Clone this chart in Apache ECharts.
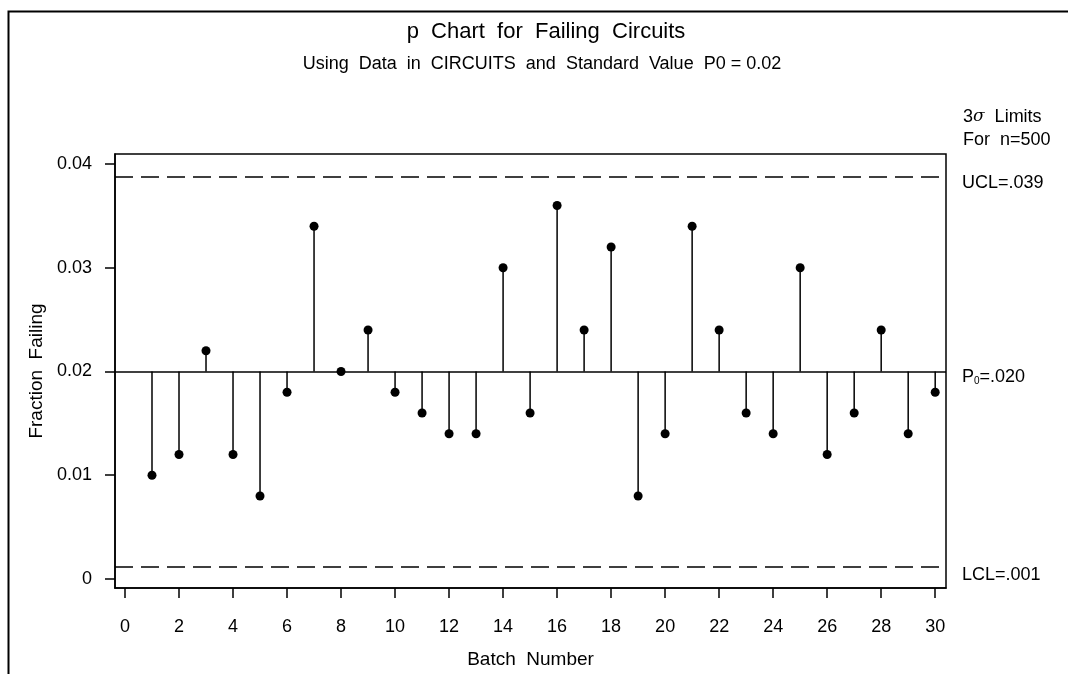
<!DOCTYPE html>
<html>
<head>
<meta charset="utf-8">
<script src="https://cdn.jsdelivr.net/npm/echarts@6/dist/echarts.min.js"></script>
<style>
  html, body { margin: 0; padding: 0; background: #fff; }
  #chart { width: 1068px; height: 674px; }
</style>
</head>
<body>
<div id="chart"></div>
<script>
const batches = [1, 2, 3, 4, 5, 6, 7, 8, 9, 10, 11, 12, 13, 14, 15, 16, 17, 18, 19, 20, 21, 22, 23, 24, 25, 26, 27, 28, 29, 30];
const fractionFailing = [0.010, 0.012, 0.022, 0.012, 0.008, 0.018, 0.034, 0.020, 0.024, 0.018,
  0.016, 0.014, 0.014, 0.030, 0.016, 0.036, 0.024, 0.032, 0.008, 0.014,
  0.034, 0.024, 0.016, 0.014, 0.030, 0.012, 0.016, 0.024, 0.014, 0.018];
const xTicks = [0, 2, 4, 6, 8, 10, 12, 14, 16, 18, 20, 22, 24, 26, 28, 30];
const yTicks = [0, 0.01, 0.02, 0.03, 0.04];
const centerLine = 0.02;
const ucl = 0.03878;
const lcl = 0.00122;

const font = "'Liberation Sans', Arial, sans-serif";
const chart = echarts.init(document.getElementById("chart"));

const points = batches.map((b, i) => [b, fractionFailing[i]]);

const option = {
  animation: false,
  backgroundColor: "#fff",
  textStyle: { fontFamily: font, color: "#000" },
  title: [
    {
      text: "p  Chart  for  Failing  Circuits",
      left: 541, top: 16, textAlign: "center",
      textStyle: { fontFamily: font, fontSize: 22, fontWeight: "normal", color: "#000" }
    },
    {
      text: "Using  Data  in  CIRCUITS  and  Standard  Value  P0 = 0.02",
      left: 537, top: 50, textAlign: "center",
      textStyle: { fontFamily: font, fontSize: 18, fontWeight: "normal", color: "#000" }
    }
  ],
  graphic: [
    {
      type: "rect", left: 6, top: 9, silent: true,
      shape: { width: 1100, height: 700 },
      style: { fill: null, stroke: "#000", lineWidth: 2 }
    },
    {
      type: "text", left: 963, top: 108,
      style: {
        text: "{s|3}{g|σ}{s|  Limits}",
        rich: {
          s: { fontFamily: font, fontSize: 18, fill: "#000" },
          g: { fontFamily: "'DejaVu Serif', serif", fontStyle: "italic", fontSize: 17, fill: "#000" }
        }
      }
    },
    {
      type: "text", left: 963, top: 131,
      style: { text: "For  n=500", font: "18px " + font, fill: "#000" }
    }
  ],
  grid: {
    left: 115, right: 122, top: 154, bottom: 85,
    show: true, borderColor: "#000", borderWidth: 1.5, backgroundColor: "transparent"
  },
  xAxis: {
    type: "value",
    min: -0.37, max: 30.4,
    name: "Batch  Number",
    nameLocation: "middle", nameGap: 62,
    nameTextStyle: { fontFamily: font, fontSize: 19, color: "#000" },
    axisLine: { show: true, onZero: false, lineStyle: { color: "#000", width: 1.5 } },
    axisTick: { show: true, inside: false, length: 10, lineStyle: { color: "#000", width: 1.5 }, customValues: xTicks },
    axisLabel: { customValues: xTicks, margin: 30, fontFamily: font, fontSize: 18, color: "#000" },
    splitLine: { show: false }
  },
  yAxis: {
    type: "value",
    min: -0.00087, max: 0.04096,
    name: "Fraction  Failing",
    nameLocation: "middle", nameGap: 68, nameRotate: 90,
    nameTextStyle: { fontFamily: font, fontSize: 19, color: "#000" },
    axisLine: { show: true, onZero: false, lineStyle: { color: "#000", width: 1.5 } },
    axisTick: { show: true, inside: false, length: 10, lineStyle: { color: "#000", width: 1.5 }, customValues: yTicks },
    axisLabel: {
      customValues: yTicks, margin: 23, fontFamily: font, fontSize: 18, color: "#000",
      formatter: v => (v === 0 ? "0" : v.toFixed(2))
    },
    splitLine: { show: false }
  },
  series: [
    {
      type: "custom",
      silent: true,
      data: points,
      renderItem: (params, api) => {
        const top = api.coord([api.value(0), centerLine]);
        const end = api.coord([api.value(0), api.value(1)]);
        return {
          type: "line",
          shape: { x1: top[0], y1: top[1], x2: end[0], y2: end[1] },
          style: { stroke: "#000", lineWidth: 1.5 }
        };
      },
      z: 2
    },
    {
      type: "scatter",
      data: points,
      symbol: "circle",
      symbolSize: 9,
      itemStyle: { color: "#000", opacity: 1 },
      z: 3,
      markLine: {
        silent: true,
        symbol: "none",
        precision: 5,
        label: {
          show: true, position: "end", distance: 16,
          fontFamily: font, fontSize: 18, color: "#000"
        },
        data: [
          {
            yAxis: ucl,
            lineStyle: { type: [18, 8], color: "#000", width: 1.5 },
            label: { formatter: "UCL=.039", offset: [0, 6] }
          },
          {
            yAxis: centerLine,
            lineStyle: { type: "solid", color: "#000", width: 1.5 },
            label: {
              formatter: "{p|P}{s|0}{p|=.020}", offset: [0, 6],
              rich: {
                p: { fontFamily: font, fontSize: 18, color: "#000" },
                s: { fontFamily: font, fontSize: 10, color: "#000", verticalAlign: "bottom" }
              }
            }
          },
          {
            yAxis: lcl,
            lineStyle: { type: [18, 8], color: "#000", width: 1.5 },
            label: { formatter: "LCL=.001", offset: [0, 9] }
          }
        ]
      }
    }
  ]
};

chart.setOption(option);
</script>
</body>
</html>
